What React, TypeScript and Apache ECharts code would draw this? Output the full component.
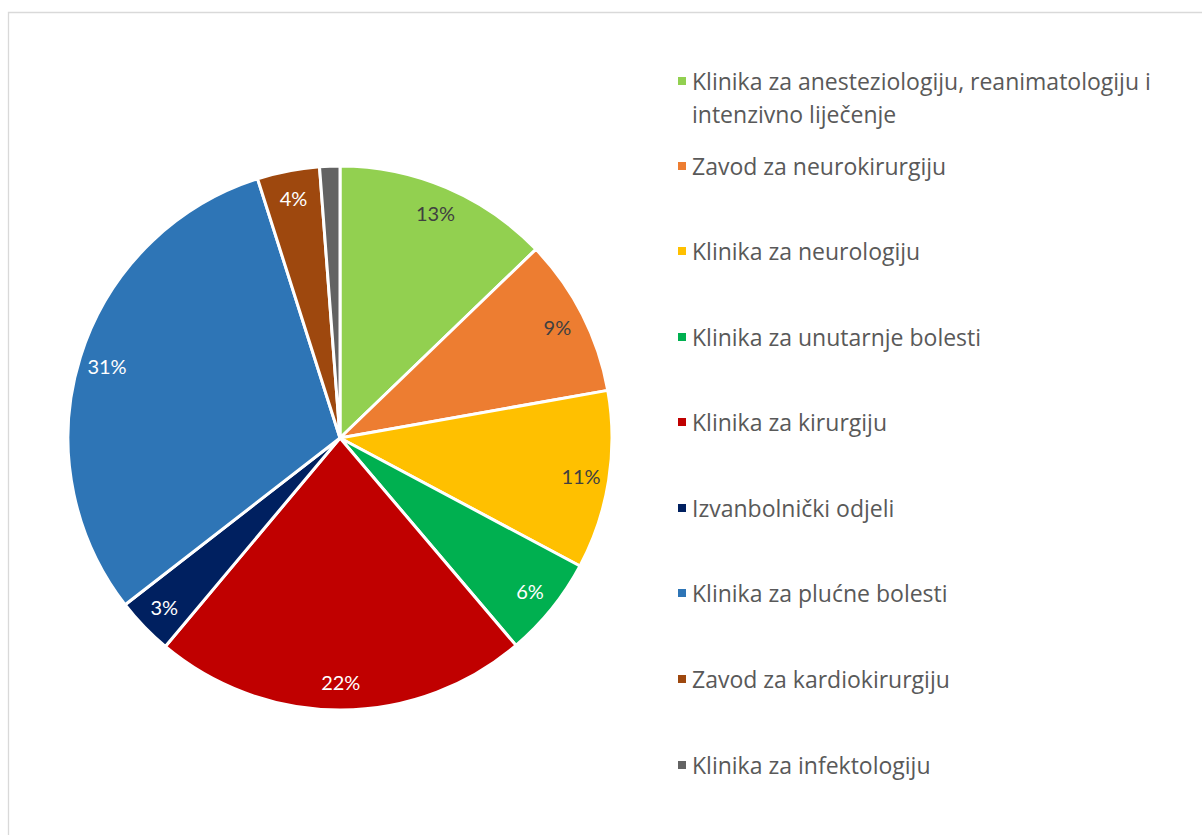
import React, { useEffect, useRef } from "react";
import * as echarts from "echarts";

const categories = [
  "Klinika za anesteziologiju, reanimatologiju i intenzivno liječenje",
  "Zavod za neurokirurgiju",
  "Klinika za neurologiju",
  "Klinika za unutarnje bolesti",
  "Klinika za kirurgiju",
  "Izvanbolnički odjeli",
  "Klinika za plućne bolesti",
  "Zavod za kardiokirurgiju",
  "Klinika za infektologiju",
];
const values = [12.8, 9.4, 10.6, 6.0, 22.3, 3.4, 30.6, 3.7, 1.2];
const colors = ["#92d050", "#ed7d31", "#ffc000", "#00b050", "#c00000", "#002060", "#2e75b6", "#9e480e", "#636363"];
const labelColors = ["#404040", "#404040", "#404040", "#ffffff", "#ffffff", "#ffffff", "#ffffff", "#ffffff", "#ffffff"];
const showLabel = [true, true, true, true, true, true, true, true, false];
const legendCenters = [81, 166, 251, 337, 422, 508, 593, 679, 765];

const LEGEND_FONT = "'Open Sans', sans-serif";
const LABEL_FONT = "Lato, sans-serif";

export default function App() {
  const ref = useRef<HTMLDivElement>(null);
  useEffect(() => {
    if (!ref.current) return;
    const chart = echarts.init(ref.current, undefined, { renderer: "svg" });
    const center = [340, 438];
    const R = 272;
    const legendLH = 33;
    const legends = categories.map((name, i) => {
      const first = i === 0;
      return {
        orient: "vertical",
        left: 676,
        padding: 0,
        top: first ? legendCenters[i] - (legendLH * 3) / 2 : legendCenters[i] - legendLH / 2,
        data: [name],
        icon: "rect",
        itemWidth: 10,
        itemHeight: 10,
        selectedMode: false,
        formatter: first
          ? () => "\nKlinika za anesteziologiju, reanimatologiju i\nintenzivno liječenje"
          : undefined,
        textStyle: {
          fontFamily: LEGEND_FONT,
          fontSize: 23,
          color: "#595959",
          lineHeight: legendLH,
        },
      };
    });
    chart.setOption({
      animation: false,
      backgroundColor: "#ffffff",
      graphic: [
        {
          type: "rect",
          shape: { x: 8.5, y: 12.5, width: 1300, height: 900 },
          style: { fill: "none", stroke: "#d9d9d9", lineWidth: 1.3 },
          silent: true,
        },
      ],
      legend: legends,
      series: [
        {
          type: "pie",
          center,
          radius: [0, R],
          startAngle: 90,
          clockwise: true,
          avoidLabelOverlap: false,
          label: { show: false },
          labelLine: { show: false },
          itemStyle: { borderColor: "#ffffff", borderWidth: 3 },
          emphasis: { disabled: true },
          data: categories.map((name, i) => ({
            name,
            value: values[i],
            itemStyle: { color: colors[i] },
          })),
        },
        {
          type: "pie",
          center,
          radius: [210, R],
          startAngle: 90,
          clockwise: true,
          silent: true,
          legendHoverLink: false,
          avoidLabelOverlap: false,
          labelLine: { show: false },
          itemStyle: { color: "rgba(0,0,0,0)", borderWidth: 0 },
          emphasis: { disabled: true },
          label: {
            show: true,
            position: "inside",
            fontFamily: LABEL_FONT,
            fontSize: 20,
            formatter: (p: any) => Math.round(p.percent) + "%",
          },
          data: categories.map((name, i) => ({
            name,
            value: values[i],
            label: { show: showLabel[i], color: labelColors[i] },
          })),
        },
      ],
    });
    return () => chart.dispose();
  }, []);
  return (
    <div
      ref={ref}
      style={{ position: "fixed", left: 0, top: 0, width: 1202, height: 835 }}
    />
  );
}
